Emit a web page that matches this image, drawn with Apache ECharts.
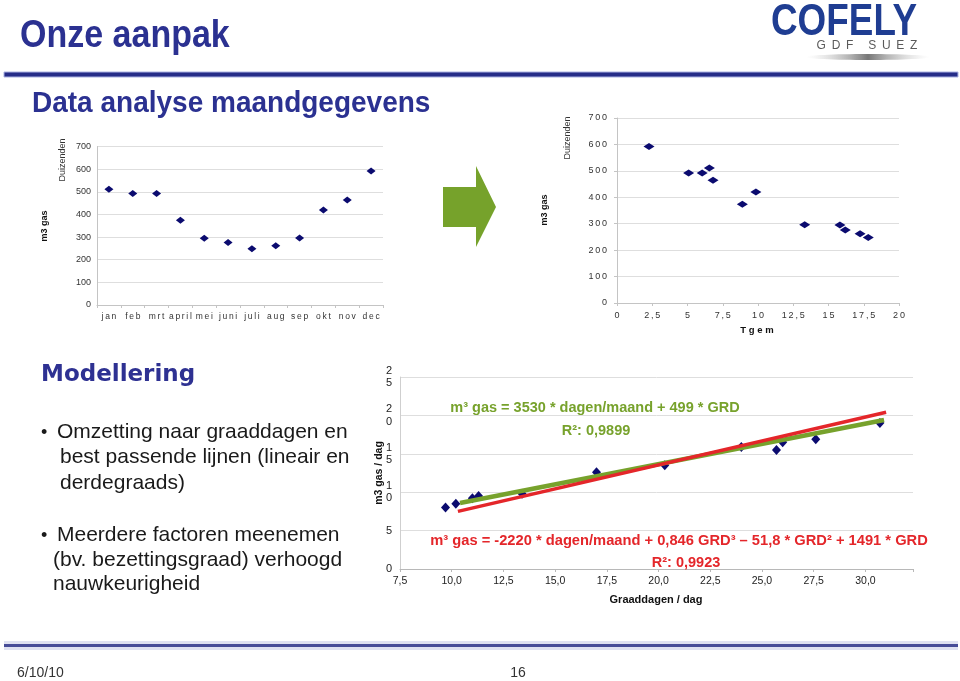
<!DOCTYPE html>
<html>
<head>
<meta charset="utf-8">
<script src="https://cdn.jsdelivr.net/npm/echarts@6/dist/echarts.min.js"></script>
<style>
  html, body { margin: 0; padding: 0; background: #fff; }
  #chart { width: 960px; height: 681px; }
</style>
</head>
<body>
<div id="chart"></div>
<script>
// maandverbruik (duizenden m3)
const months = ['jan', 'feb', 'mrt', 'april', 'mei', 'juni', 'juli', 'aug', 'sep', 'okt', 'nov', 'dec'];
const monthGas = [511, 492, 492, 374, 295, 276, 248, 262, 296, 420, 464, 592];
// gemiddelde temperatuur per maand
const tempAvg = [6.55, 5.08, 6.04, 8.89, 15.81, 16.19, 17.82, 17.24, 13.31, 9.85, 6.81, 2.27];

// graaddagen / dag tegen m3 gas / dag
const gradDagen = [9.7, 10.2, 11.0, 11.3, 13.4, 17.0, 20.3, 24.0, 25.7, 26.0, 27.6, 30.7];
const gasPerDag = [8.0, 8.5, 9.2, 9.5, 9.8, 12.6, 13.5, 15.9, 15.5, 16.5, 16.9, 19.0];
// lineaire en derdegraads fit (eindpunten zoals getekend)
const linFitX = [10.4, 30.9];
const linFitY = [8.6, 19.4];
const cubFitX = [10.3, 31.0];
const cubFitY = [7.5, 20.4];

const NAVY = '#0b0b6f';
const TITLE_BLUE = '#2b3191';
const GREEN = '#77a22c';
const RED = '#e4262a';
const FONT = 'Liberation Sans';

const spaced = (s, sep) => String(s).split('').join(sep);

const myChart = echarts.init(document.getElementById('chart'));

function txt(x, y, text, opts) {
    opts = opts || {};
    return {
        type: 'text', x: x, y: y, rotation: opts.rotation || 0, z: 10,
        scaleY: opts.scaleY || 1,
        style: {
            text: text,
            fontFamily: opts.family || FONT,
            fontSize: opts.size || 12,
            fontWeight: opts.weight || 'normal',
            fill: opts.color || '#222',
            align: opts.align || 'left',
            verticalAlign: 'middle'
        }
    };
}

const axisLbl = { fontFamily: FONT, fontSize: 9, color: '#333' };
const gridLine = { show: true, lineStyle: { color: '#dedede', width: 1 } };
const axLine = { show: true, lineStyle: { color: '#c4c4c4' } };
const dot = { color: NAVY, opacity: 1 };

var option = {
    animation: false,
    grid: [
        { left: 97, top: 146.5, width: 286, height: 158.5 },
        { left: 617, top: 118, width: 282, height: 185 },
        { left: 400, top: 377, width: 513, height: 192 }
    ],
    xAxis: [
        {
            gridIndex: 0, type: 'category', data: months, boundaryGap: true,
            axisLine: axLine,
            axisTick: { show: true, length: 3, lineStyle: { color: '#c4c4c4' } },
            axisLabel: Object.assign({}, axisLbl, { interval: 0, margin: 7, fontSize: 8.5,
                formatter: v => spaced(v, '\u2009') })
        },
        {
            gridIndex: 1, type: 'value', min: 0, max: 20, interval: 2.5,
            axisLine: axLine,
            axisTick: { show: true, length: 3, lineStyle: { color: '#c4c4c4' } },
            splitLine: { show: false },
            axisLabel: Object.assign({}, axisLbl, { margin: 8, formatter: v => spaced(String(v).replace('.', ','), '\u2009') })
        },
        {
            gridIndex: 2, type: 'value', min: 7.5, max: 32.3, interval: 2.5,
            axisLine: { show: true, lineStyle: { color: '#b8b8b8' } },
            axisTick: { show: true, length: 3, lineStyle: { color: '#b8b8b8' } },
            splitLine: { show: false },
            axisLabel: { fontFamily: FONT, fontSize: 10.5, color: '#222', margin: 7,
                formatter: v => v > 30.01 ? '' : v.toFixed(1).replace('.', ',') }
        }
    ],
    yAxis: [
        {
            gridIndex: 0, type: 'value', min: 0, max: 700, interval: 100,
            axisLine: axLine,
            axisTick: { show: false },
            splitLine: gridLine,
            axisLabel: Object.assign({}, axisLbl, { margin: 6 })
        },
        {
            gridIndex: 1, type: 'value', min: 0, max: 700, interval: 100,
            axisLine: axLine,
            axisTick: { show: true, length: 3, lineStyle: { color: '#c4c4c4' } },
            splitLine: gridLine,
            axisLabel: Object.assign({}, axisLbl, { margin: 10, formatter: v => spaced(v, '\u2009') })
        },
        {
            gridIndex: 2, type: 'value', min: 0, max: 25, interval: 5,
            axisLine: { show: true, lineStyle: { color: '#cfcfcf' } },
            axisTick: { show: false },
            splitLine: gridLine,
            axisLabel: { fontFamily: FONT, fontSize: 11, color: '#222', margin: 8, lineHeight: 12.5,
                formatter: v => spaced(v, '\n') }
        }
    ],
    series: [
        {
            type: 'scatter', xAxisIndex: 0, yAxisIndex: 0,
            symbol: 'diamond', symbolSize: [9, 7],
            itemStyle: dot,
            data: monthGas
        },
        {
            type: 'scatter', xAxisIndex: 1, yAxisIndex: 1,
            symbol: 'diamond', symbolSize: [11, 7],
            itemStyle: dot,
            data: tempAvg.map((t, i) => [t, monthGas[i]])
        },
        {
            type: 'scatter', xAxisIndex: 2, yAxisIndex: 2, z: 2,
            symbol: 'diamond', symbolSize: [9, 10],
            itemStyle: dot,
            data: gradDagen.map((g, i) => [g, gasPerDag[i]])
        },
        {
            type: 'line', xAxisIndex: 2, yAxisIndex: 2, z: 3,
            symbol: 'none',
            lineStyle: { color: GREEN, width: 4.5 },
            data: linFitX.map((x, i) => [x, linFitY[i]])
        },
        {
            type: 'line', xAxisIndex: 2, yAxisIndex: 2, z: 4,
            symbol: 'none',
            lineStyle: { color: RED, width: 3.5 },
            data: cubFitX.map((x, i) => [x, cubFitY[i]])
        }
    ],
    graphic: [
        // kop
        txt(20, 36, 'Onze aanpak', { size: 34, weight: 'bold', color: TITLE_BLUE, scaleY: 1.12 }),
        {
            type: 'rect', z: 5,
            shape: { x: 4, y: 72, width: 954, height: 5 },
            style: { fill: '#262d88', stroke: '#aab2e2', lineWidth: 1 }
        },
        txt(32, 104, 'Data analyse maandgegevens', { size: 28, weight: 'bold', color: TITLE_BLUE, scaleY: 1.08 }),

        // logo
        {
            type: 'ellipse', z: 4,
            shape: { cx: 868, cy: 57, rx: 62, ry: 3 },
            style: {
                fill: new echarts.graphic.LinearGradient(0, 0, 1, 0, [
                    { offset: 0, color: 'rgba(200,200,200,0)' },
                    { offset: 0.5, color: 'rgba(95,95,95,0.85)' },
                    { offset: 1, color: 'rgba(200,200,200,0)' }
                ])
            }
        },
        {
            type: 'text', x: 771, y: 23, scaleX: 0.97, scaleY: 1.15, z: 10,
            style: { text: 'COFELY', fontFamily: FONT, fontSize: 38, fontWeight: 'bold',
                fill: '#1f3d92', align: 'left', verticalAlign: 'middle' }
        },
        txt(867, 46, spaced('GDF SUEZ', ' \u2009'), { size: 12, color: '#5a5a5a', align: 'center' }),

        // grafiek 1 titels
        txt(63, 160, 'Duizenden', { size: 9, rotation: Math.PI / 2, align: 'center', color: '#333' }),
        txt(45, 226, 'm3 gas', { size: 9, weight: 'bold', rotation: Math.PI / 2, align: 'center', color: '#111' }),

        // pijl
        {
            type: 'polygon', z: 5,
            shape: { points: [[443, 187], [476, 187], [476, 166], [496, 207], [476, 247], [476, 227], [443, 227]] },
            style: { fill: '#76a22b' }
        },

        // grafiek 2 titels
        txt(568, 138, 'Duizenden', { size: 9, rotation: Math.PI / 2, align: 'center', color: '#333' }),
        txt(545, 210, 'm3 gas', { size: 9, weight: 'bold', rotation: Math.PI / 2, align: 'center', color: '#111' }),
        txt(757, 330, 'T g e m', { size: 9.5, weight: 'bold', align: 'center', color: '#111' }),

        // modellering
        txt(41, 375, 'Modellering', { size: 23, weight: 'bold', family: 'DejaVu Sans', color: '#2e3192' }),
        txt(41, 433, '\u2022', { size: 18, color: '#1a1a1a' }),
        txt(57, 432, 'Omzetting naar graaddagen en', { size: 21, color: '#1a1a1a' }),
        txt(60, 457, 'best passende lijnen (lineair en', { size: 21, color: '#1a1a1a' }),
        txt(60, 483, 'derdegraads)', { size: 21, color: '#1a1a1a' }),
        txt(41, 536, '\u2022', { size: 18, color: '#1a1a1a' }),
        txt(57, 535, 'Meerdere factoren meenemen', { size: 21, color: '#1a1a1a' }),
        txt(53, 560, '(bv. bezettingsgraad) verhoogd', { size: 21, color: '#1a1a1a' }),
        txt(53, 584, 'nauwkeurigheid', { size: 21, color: '#1a1a1a' }),

        // grafiek 3 titels en formules
        txt(379, 473, 'm3 gas / dag', { size: 10.5, weight: 'bold', rotation: Math.PI / 2, align: 'center', color: '#111' }),
        txt(656, 600, 'Graaddagen / dag', { size: 11, weight: 'bold', align: 'center', color: '#111' }),
        txt(595, 408, 'm\u00b3 gas = 3530 * dagen/maand + 499 * GRD', { size: 14.5, weight: 'bold', align: 'center', color: GREEN }),
        txt(596, 431, 'R\u00b2: 0,9899', { size: 14.5, weight: 'bold', align: 'center', color: GREEN }),
        txt(679, 541, 'm\u00b3 gas = -2220 * dagen/maand + 0,846 GRD\u00b3 \u2013 51,8 * GRD\u00b2 + 1491 * GRD', { size: 14.7, weight: 'bold', align: 'center', color: RED }),
        txt(686, 563, 'R\u00b2: 0,9923', { size: 14.5, weight: 'bold', align: 'center', color: RED }),

        // voettekst
        {
            type: 'rect', z: 4,
            shape: { x: 4, y: 641, width: 954, height: 9 },
            style: { fill: '#dfe1f1' }
        },
        {
            type: 'rect', z: 5,
            shape: { x: 4, y: 644, width: 954, height: 3 },
            style: { fill: '#474c98' }
        },
        txt(17, 673, '6/10/10', { size: 14, color: '#333' }),
        txt(518, 673, '16', { size: 14, color: '#333', align: 'center' })
    ]
};

option && myChart.setOption(option);
</script>
</body>
</html>
